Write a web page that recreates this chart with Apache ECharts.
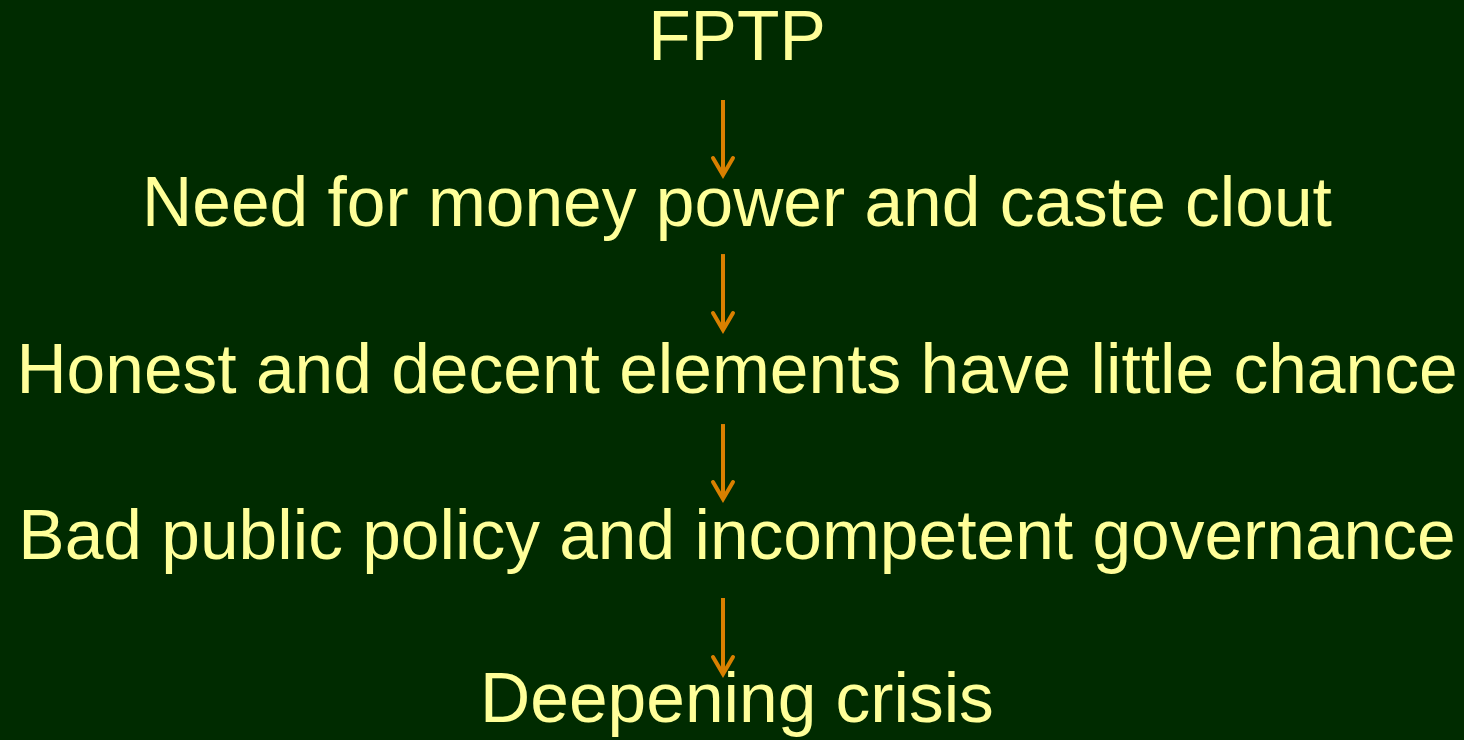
<!DOCTYPE html>
<html>
<head>
<meta charset="utf-8">
<script src="https://cdn.jsdelivr.net/npm/echarts@6/dist/echarts.min.js"></script>
<style>
html,body{margin:0;padding:0;background:#002b00;}
#c{width:1464px;height:740px;}
</style>
</head>
<body>
<div id="c"></div>
<script>
// Flow steps (top to bottom) and their row positions (baseline, in row units)
var steps = [
  "FPTP",
  "Need for money power and caste clout",
  "Honest and decent elements have little chance",
  "Bad public policy and incompetent governance",
  "Deepening crisis"
];
var stepRows = [0, 1, 2.006, 3.006, 3.988];
// Arrows between steps: start and end (row units)
var arrowFrom = [0.229, 1.157, 2.181, 3.229];
var arrowTo   = [0.699, 1.633, 2.651, 3.705];

var textX = 0.5034, arrowX = 0.4939;

var chart = echarts.init(document.getElementById('c'), null, {renderer:'canvas'});
chart.setOption({
  backgroundColor: '#002b00',
  animation: false,
  grid: {left:0, right:0, top:0, bottom:0},
  xAxis: {type:'value', min:0, max:1, show:false},
  yAxis: {type:'value', min:-0.3735, max:4.0843, inverse:true, show:false},
  series: [
    {
      type: 'custom',
      data: arrowFrom.map(function(f,i){ return [arrowX, f, arrowTo[i]]; }),
      renderItem: function(params, api){
        var p0 = api.coord([api.value(0), api.value(1)]);
        var p1 = api.coord([api.value(0), api.value(2)]);
        var x = Math.round(p0[0]);
        return {
          type:'group',
          children:[
            {type:'line', shape:{x1:x, y1:p0[1], x2:x, y2:p1[1]-3},
             style:{stroke:'#d98000', lineWidth:4}},
            {type:'polyline', shape:{points:[[x-10,p1[1]-20],[x,p1[1]-3],[x+10,p1[1]-20]]},
             style:{stroke:'#d98000', lineWidth:4, fill:null, lineJoin:'miter', lineCap:'round'}}
          ]
        };
      }
    },
    {
      type: 'custom',
      data: steps.map(function(s,i){ return [textX, stepRows[i], s]; }),
      renderItem: function(params, api){
        var p = api.coord([api.value(0), api.value(1)]);
        return {
          type:'text',
          x: p[0], y: p[1] + 14,
          style:{
            text: steps[params.dataIndex],
            fontFamily: '"Liberation Sans", Arial, sans-serif',
            fontSize: 69.5,
            fill: '#ffff99',
            align: 'center',
            verticalAlign: 'bottom',
            lineHeight: 70
          }
        };
      }
    }
  ]
});
</script>
</body>
</html>
